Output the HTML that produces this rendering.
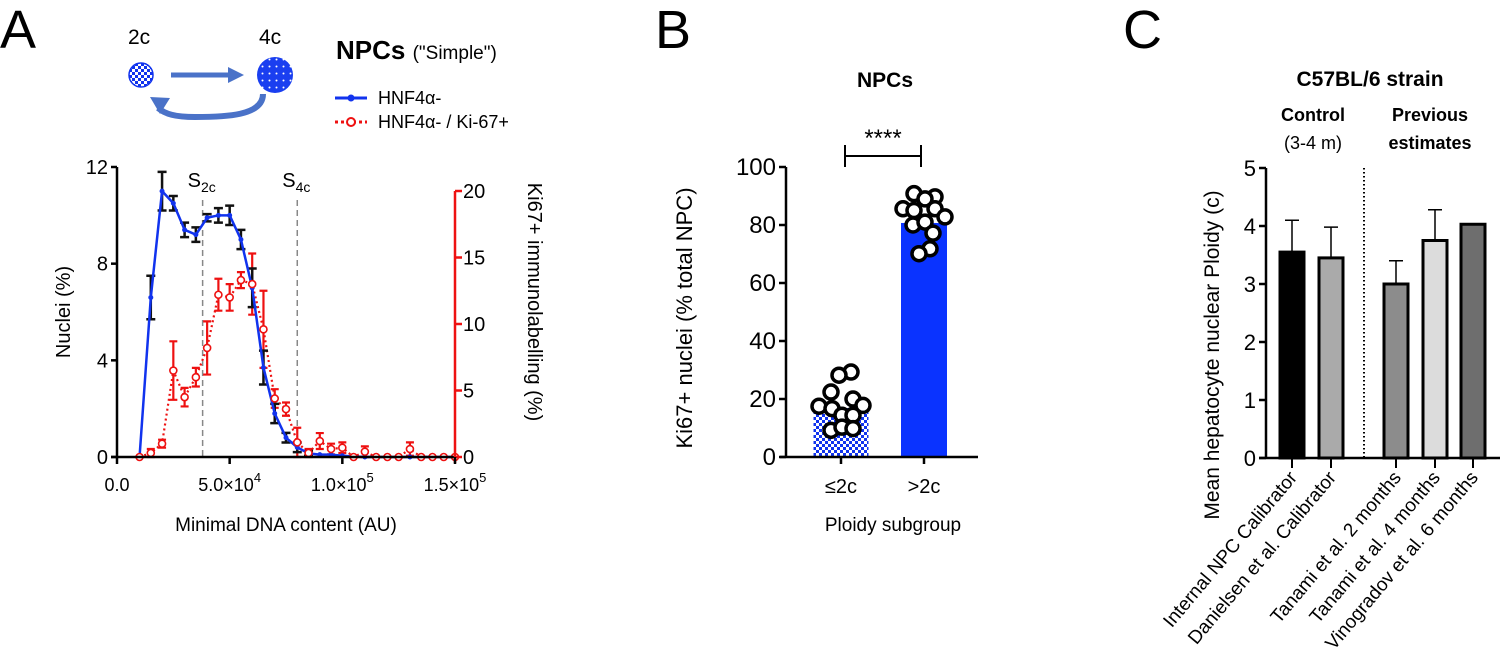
<!DOCTYPE html>
<html><head><meta charset="utf-8"><style>
html,body{margin:0;padding:0;background:#fff}
svg{display:block;font-family:"Liberation Sans",Arial,sans-serif}
</style></head><body>
<svg id="fig" width="1500" height="667" viewBox="0 0 1500 667" xmlns="http://www.w3.org/2000/svg">
<defs>
<pattern id="chk" width="6" height="6" patternUnits="userSpaceOnUse"><rect width="6" height="6" fill="#fff"/><rect width="3" height="3" fill="#1133ee"/><rect x="3" y="3" width="3" height="3" fill="#1133ee"/></pattern>
<pattern id="dots" width="7" height="7" patternUnits="userSpaceOnUse"><rect width="7" height="7" fill="#1a3ff0"/><circle cx="3.5" cy="3.5" r="1" fill="#fff"/></pattern>
</defs>
<text x="0" y="48" font-size="54">A</text>
<text x="128" y="44" font-size="21">2c</text>
<text x="259" y="44" font-size="21">4c</text>
<circle cx="141" cy="75" r="12" fill="url(#chk)" stroke="#1133ee" stroke-width="1.5"/>
<circle cx="275" cy="75" r="18" fill="url(#dots)"/>
<g stroke="#4a72c8" fill="#4a72c8">
<line x1="171" y1="75" x2="230" y2="75" stroke-width="5"/><polygon points="228,67 244,75 228,83" stroke="none"/>
<path d="M263 94 C263 116 225 117 195 117 C175 117 165 114 158 108" fill="none" stroke-width="6"/><polygon points="150,97 170,98 160,114" stroke="none"/>
</g>
<text x="336" y="59" font-size="26" font-weight="bold">NPCs <tspan font-weight="normal" font-size="19">("Simple")</tspan></text>
<g>
<line x1="335" y1="98" x2="367" y2="98" stroke="#1133ee" stroke-width="3"/><circle cx="351" cy="98" r="3.5" fill="#1133ee"/>
<text x="378" y="104" font-size="18">HNF4α-</text>
<line x1="335" y1="122" x2="367" y2="122" stroke="#ee1111" stroke-width="3" stroke-dasharray="3,3"/><circle cx="351" cy="122" r="4" fill="#fff" stroke="#ee1111" stroke-width="2"/>
<text x="378" y="128" font-size="18">HNF4α- / Ki-67+</text>
</g>
<g id="pa"></g>
<text x="655" y="48" font-size="54">B</text>
<text x="885" y="87" font-size="21" font-weight="bold" text-anchor="middle">NPCs</text>
<g id="pb"></g>
<text x="1123" y="48" font-size="54">C</text>
<text x="1370" y="86" font-size="21" font-weight="bold" text-anchor="middle">C57BL/6 strain</text>
<text x="1313" y="121" font-size="18" font-weight="bold" text-anchor="middle">Control</text>
<text x="1313" y="149" font-size="18" text-anchor="middle">(3-4 m)</text>
<text x="1430" y="121" font-size="18" font-weight="bold" text-anchor="middle">Previous</text>
<text x="1430" y="149" font-size="18" font-weight="bold" text-anchor="middle">estimates</text>
<g id="pc"></g>
</svg>
<script>
const aX = [10,15,20,25,30,35,40,45,50,55,60,65,70,75,80,85,90,95,100,105,110,115,120,125,130,135,140,145,150];
const aBlue = [0,6.6,11,10.5,9.4,9.2,9.9,10,10,9,7,3.7,1.8,0.8,0.4,0.15,0.1,0.1,0.05,0.02,0,0,0,0,0,0,0,0,0];
const aBlueErr = [0,0.9,0.8,0.3,0.3,0.3,0.15,0.3,0.4,0.4,0.8,0.7,0.4,0.2,0.2,0.1,0,0,0,0,0,0,0,0,0,0,0,0,0];
const aRed = [0,0.3,1,6.5,4.5,6,8.2,12.2,12,13.3,13,9.6,4.4,3.6,1.1,0.3,1.2,0.6,0.7,0,0.4,0,0,0,0.6,0,0,0,0];
const aRedErr = [0,0.3,0.3,2.2,0.7,0.7,2,1.2,1,0.6,2.3,2.9,0.7,0.5,1.1,0.3,0.6,0.4,0.4,0,0.4,0,0,0,0.5,0,0,0,0];
const aLeftTicks = [0,4,8,12];
const aRightTicks = [0,5,10,15,20];
const aXTicks = [0,50,100,150];
const aXTickLabels = ["0.0","5.0×10","1.0×10","1.5×10"];
const aXTickExp = ["","4","5","5"];
const aVLines = [38,80];
const aVLabels = ["2c","4c"];
const bCats = ["≤2c",">2c"];
const bMeans = [17,80.7];
const bDots1 = [29.3,28.2,22.4,17.5,16.7,20,17.8,14.4,14.4,9.2,10.3,9.8];
const bDots2 = [90.8,89.7,89,85.6,85,85.6,82.8,80,81,77.2,71.8,70.1];
const bTicks = [0,20,40,60,80,100];
const cCats = ["Internal NPC Calibrator","Danielsen et al. Calibrator","Tanami et al. 2 months","Tanami et al. 4 months","Vinogradov et al. 6 months"];
const cMeans = [3.55,3.45,3.0,3.75,4.03];
const cErr = [0.55,0.53,0.4,0.53,0];
const cTicks = [0,1,2,3,4,5];
const cFill = ["#000","#aaa","#8c8c8c","#dcdcdc","#6e6e6e"];

const NS="http://www.w3.org/2000/svg";
function mk(p,tag,at,txt){const e=document.createElementNS(NS,tag);for(const k in at)e.setAttribute(k,at[k]);if(txt!==undefined)e.textContent=txt;p.appendChild(e);return e;}

const pa=document.getElementById('pa');
const ax=v=>117+v*(455-117)/150, ayL=v=>457-v*(457-167)/12, ayR=v=>457-v*(457-191)/20;
let e;
aVLines.forEach((v,i)=>{
 e=mk(pa,'line',{x1:ax(v),x2:ax(v),y1:200,y2:457,stroke:'#888','stroke-width':1.5,'stroke-dasharray':'6,4'});
 
 
 e=mk(pa,'text',{x:ax(v)-15,y:187,'font-size':20});
 
 
 e.textContent='S';mk(e,'tspan',{'font-size':14,dy:5},aVLabels[i]);
});
const redPts=aX.map((x,i)=>[ax(x),ayR(aRed[i])]);
e=mk(pa,'polyline',{points:redPts.map(p=>p.join(',')).join(' '),fill:'none',stroke:'#ee1111','stroke-width':2.2,'stroke-dasharray':'2,3'});


aX.forEach((x,i)=>{
 if(aRedErr[i]>0){const X=ax(x),t=ayR(aRed[i]+aRedErr[i]),b=ayR(aRed[i]-aRedErr[i]);
  e=mk(pa,'path',{d:`M${X} ${t}V${b}M${X-4} ${t}H${X+4}M${X-4} ${b}H${X+4}`,stroke:'#ee1111','stroke-width':2.2,fill:'none'});
  
  }
});
aX.forEach((x,i)=>{
 if(aBlueErr[i]>0){const X=ax(x),t=ayL(aBlue[i]+aBlueErr[i]),b=ayL(aBlue[i]-aBlueErr[i]);
  e=mk(pa,'path',{d:`M${X} ${t}V${b}M${X-4.5} ${t}H${X+4.5}M${X-4.5} ${b}H${X+4.5}`,stroke:'#111','stroke-width':2.5,fill:'none'});
  
  }
});
e=mk(pa,'polyline',{points:aX.map((x,i)=>ax(x)+','+ayL(aBlue[i])).join(' '),fill:'none',stroke:'#1133ee','stroke-width':2.5});


aX.forEach((x,i)=>{e=mk(pa,'circle',{cx:ax(x),cy:ayL(aBlue[i]),r:2.5,fill:'#1133ee'});
 
 });
redPts.forEach(p=>{e=mk(pa,'circle',{cx:p[0],cy:p[1],r:3.5,fill:'#fff',stroke:'#ee1111','stroke-width':1.6});
 
 });
e=mk(pa,'line',{x1:117,x2:117,y1:167,y2:458,stroke:'#000','stroke-width':2.5});


e=mk(pa,'line',{x1:111,x2:455,y1:457,y2:457,stroke:'#000','stroke-width':2.5});


e=mk(pa,'line',{x1:455,x2:455,y1:191,y2:463,stroke:'#ee1111','stroke-width':2.5});


aLeftTicks.forEach(v=>{mk(pa,'line',{x1:111,x2:117,y1:ayL(v),y2:ayL(v),stroke:'#000','stroke-width':2.5});
 e=mk(pa,'text',{x:108,y:ayL(v)+7,'font-size':20,'text-anchor':'end'},v);
 
 });
aRightTicks.forEach(v=>{mk(pa,'line',{x1:455,x2:462,y1:ayR(v),y2:ayR(v),stroke:'#ee1111','stroke-width':2.5});
 e=mk(pa,'text',{x:463,y:ayR(v)+7,'font-size':20},v);
 
 });
aXTicks.forEach((v,i)=>{mk(pa,'line',{x1:ax(v),x2:ax(v),y1:457,y2:464,stroke:'#000','stroke-width':2.5});
 e=mk(pa,'text',{x:ax(v),y:491,'font-size':18,'text-anchor':'middle'},aXTickLabels[i]);
 
 
 if(aXTickExp[i])mk(e,'tspan',{'font-size':13,dy:-9},aXTickExp[i]);});
e=mk(pa,'text',{x:286,y:531,'font-size':19,'text-anchor':'middle'},'Minimal DNA content (AU)');


e=mk(pa,'text',{x:0,y:0,'font-size':20,'text-anchor':'middle',transform:'translate(70,312) rotate(-90)'},'Nuclei (%)');


e=mk(pa,'text',{x:0,y:0,'font-size':20,'text-anchor':'middle',transform:'translate(528,302) rotate(90)'},'Ki67+ immunolabelling (%)');



const pb=document.getElementById('pb');
const by=v=>457-v*2.9;
const bx=[841,924], bw=[55,46];
bCats.forEach((c,i)=>{
 e=mk(pb,'rect',{x:bx[i]-bw[i]/2,y:by(bMeans[i]),width:bw[i],height:457-by(bMeans[i]),fill:i==0?'url(#chk)':'#0a33ff'});
 
 
 mk(pb,'line',{x1:bx[i],x2:bx[i],y1:457,y2:464,stroke:'#000','stroke-width':2.5});
 e=mk(pb,'text',{x:bx[i],y:493,'font-size':20,'text-anchor':'middle'},c);
 
 
});
const off1=[10,-2,-10,-22,-9,12,22,1,12,-10,1,12];
const off2=[-10,11,1,-21,-10,11,21,-11,1,9,6,-5];
[bDots1,bDots2].forEach((arr,k)=>{const off=k?off2:off1;arr.forEach((v,j)=>{
 e=mk(pb,'circle',{cx:bx[k]+off[j],cy:by(v),r:7,fill:'#fff',stroke:'#000','stroke-width':3.5});
 
 });});
e=mk(pb,'line',{x1:786,x2:786,y1:167,y2:458,stroke:'#000','stroke-width':2.5});


e=mk(pb,'line',{x1:780,x2:978,y1:457,y2:457,stroke:'#000','stroke-width':2.5});


bTicks.forEach(v=>{mk(pb,'line',{x1:779,x2:786,y1:by(v),y2:by(v),stroke:'#000','stroke-width':2.5});
 e=mk(pb,'text',{x:776,y:by(v)+8,'font-size':24,'text-anchor':'end'},v);
 
 });
e=mk(pb,'path',{d:'M845 167V145M845 156H921M921 145V167',stroke:'#000','stroke-width':2,fill:'none'});


e=mk(pb,'text',{x:883,y:146,'font-size':24,'text-anchor':'middle'},'****');


e=mk(pb,'text',{x:893,y:531,'font-size':19,'text-anchor':'middle'},'Ploidy subgroup');


e=mk(pb,'text',{x:0,y:0,'font-size':22,'text-anchor':'middle',transform:'translate(692,318) rotate(-90)'},'Ki67+ nuclei (% total NPC)');



const pc=document.getElementById('pc');
const cy=v=>458-v*58;
const cx=[1292,1331,1396,1435,1473], cw=24;
cCats.forEach((c,i)=>{
 if(cErr[i]>0){e=mk(pc,'path',{d:`M${cx[i]} ${cy(cMeans[i])}V${cy(cMeans[i]+cErr[i])}M${cx[i]-7} ${cy(cMeans[i]+cErr[i])}H${cx[i]+7}`,stroke:'#000','stroke-width':1.5,fill:'none'});
  
  }
 e=mk(pc,'rect',{x:cx[i]-cw/2,y:cy(cMeans[i]),width:cw,height:458-cy(cMeans[i]),fill:cFill[i],stroke:'#000','stroke-width':3});
 
 
 mk(pc,'line',{x1:cx[i],x2:cx[i],y1:458,y2:468,stroke:'#000','stroke-width':2});
 e=mk(pc,'text',{x:0,y:0,'font-size':19,'text-anchor':'end',transform:`translate(${cx[i]+6},${478}) rotate(-50)`},c);
 
 
});
e=mk(pc,'line',{x1:1364,x2:1364,y1:168,y2:458,stroke:'#000','stroke-width':2,'stroke-dasharray':'1.5,2.5'});


e=mk(pc,'line',{x1:1266,x2:1266,y1:168,y2:459,stroke:'#000','stroke-width':2.5});


e=mk(pc,'line',{x1:1259,x2:1500,y1:458,y2:458,stroke:'#000','stroke-width':2.5});


cTicks.forEach(v=>{mk(pc,'line',{x1:1259,x2:1266,y1:cy(v),y2:cy(v),stroke:'#000','stroke-width':2.5});
 e=mk(pc,'text',{x:1256,y:cy(v)+8,'font-size':22,'text-anchor':'end'},v);
 
 });
e=mk(pc,'text',{x:0,y:0,'font-size':21,'text-anchor':'middle',transform:'translate(1219,355) rotate(-90)'},'Mean hepatocyte nuclear Ploidy (c)');


</script>
</body></html>
